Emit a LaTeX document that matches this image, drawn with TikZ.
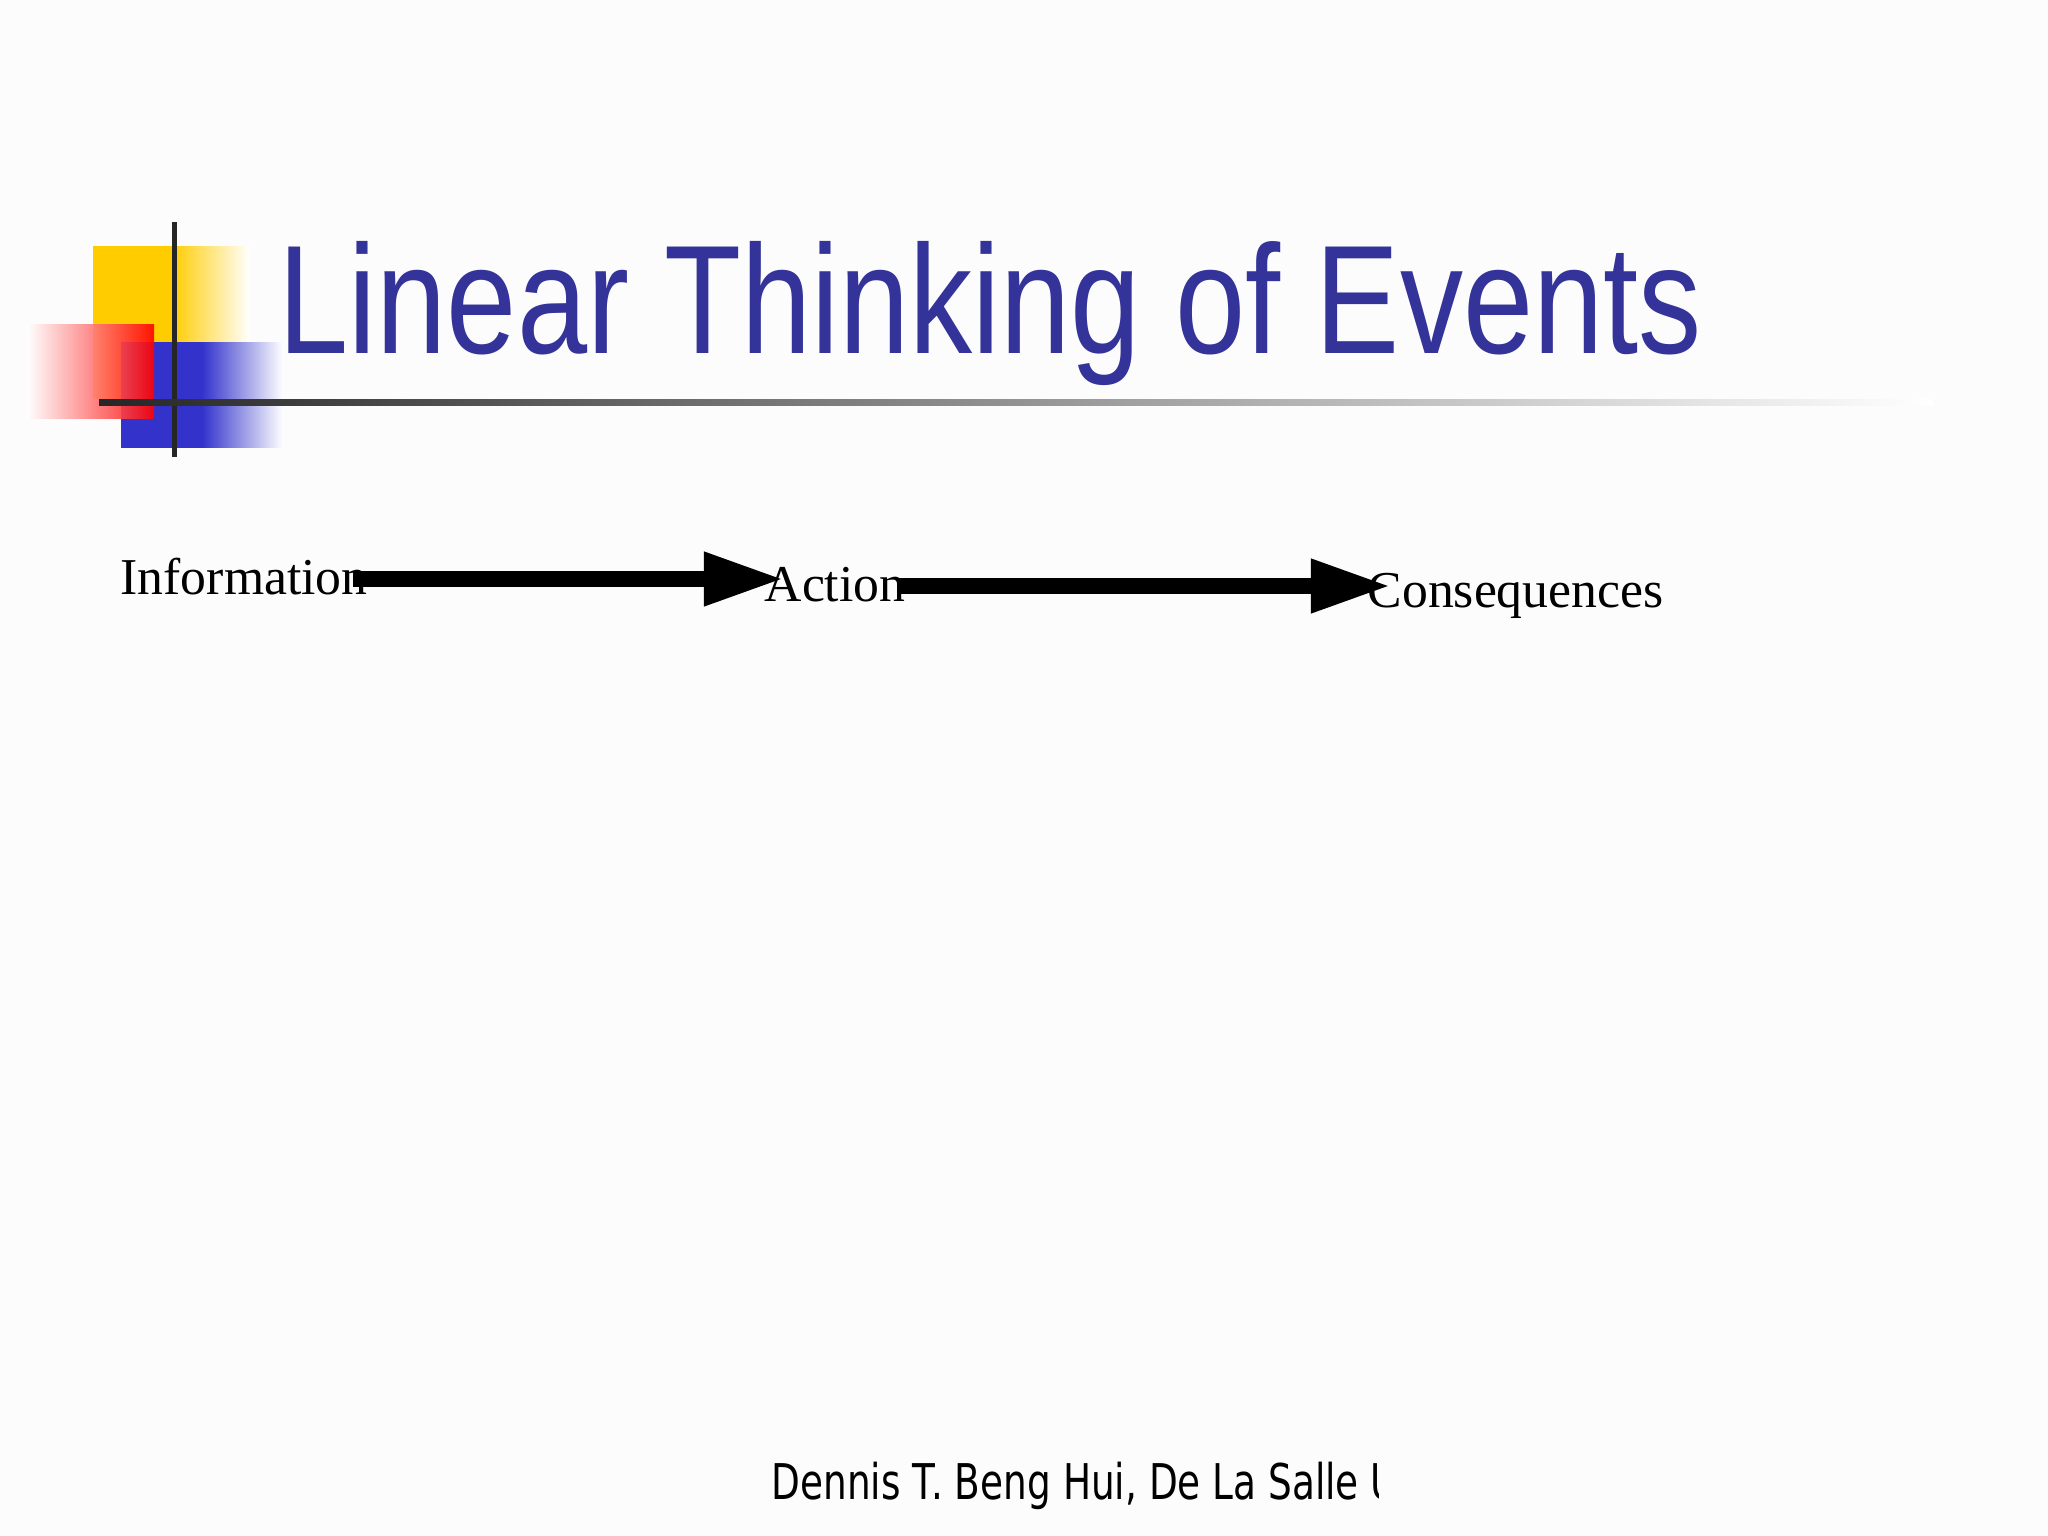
\documentclass[tikz,border=0pt]{standalone}
\usepackage{fontspec}
\setmainfont{Liberation Serif}
\newfontfamily\titlefont{Liberation Sans}
\newfontfamily\footfont{DejaVu Sans}
\usetikzlibrary{arrows.meta}
\definecolor{titleblue}{HTML}{333399}
\tikzset{
  lbl/.style={anchor=base west,inner sep=0pt,font=\fontsize{14.7}{18}\selectfont},
  flow/.style={line width=0.16cm,-{Triangle[length=0.8cm,width=0.5cm]}}
}
\begin{document}
\begin{tikzpicture}[x=0.01cm,y=-0.01cm]
\fill[white!99!black] (0,0) rectangle (2048,1536);
\useasboundingbox (0,0) rectangle (2048,1536);
% decorative squares
\shade[left color={rgb,255:red,255;green,204;blue,0},right color=white,middle color={rgb,255:red,255;green,204;blue,0}] (93,246) rectangle (250,398);
\shade[left color={rgb,255:red,51;green,51;blue,204},right color=white,middle color={rgb,255:red,51;green,51;blue,204}] (121,342) rectangle (283,447);
\shade[left color=white,right color=red,opacity=0.9] (27,324) rectangle (154,418);
\draw[line width=0.05cm,black!85] (174,222) -- (174,457);
\shade[left color=black!85,right color=white] (99,399) rectangle (1933,405);
% title
\node[anchor=base west,inner sep=0pt,text=titleblue,font=\titlefont\fontsize{44}{50}\selectfont] (title) at (278,353) {\scalebox{0.815}[1]{Linear Thinking of Events}};
% flow
\node[lbl] (info) at (120,594) {Information};
\node[lbl] (act) at (764,601) {Action};
\node[lbl] (cons) at (1367,607) {Consequences};
\coordinate (a1s) at (353,579); \coordinate (a1e) at (784,579);
\coordinate (a2s) at (898,586); \coordinate (a2e) at (1391,586);
\draw[flow] (a1s) -- (a1e);
\draw[flow] (a2s) -- (a2e);
% footer
\begin{scope}
\clip (700,1440) rectangle (1378,1530);
\node[anchor=base west,inner sep=0pt,font=\footfont\fontsize{14}{16}\selectfont] (foot) at (771,1499) {\scalebox{0.76}[1]{Dennis T. Beng Hui, De La Salle University}};
\end{scope}
\end{tikzpicture}
\end{document}
